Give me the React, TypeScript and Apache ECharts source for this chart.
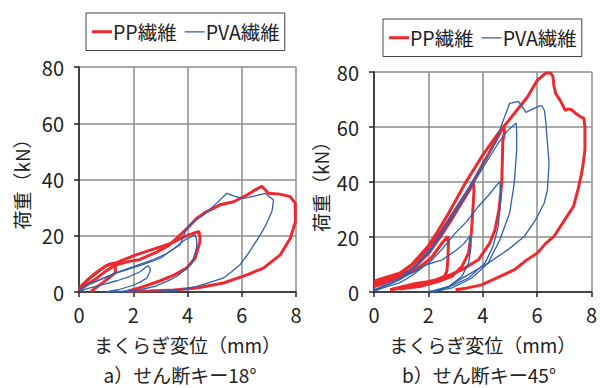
import React, { useEffect, useRef } from "react";
import * as echarts from "echarts";

// ---- axis ticks ----
const xTicks = [0, 2, 4, 6, 8];
const yTicks = [0, 20, 40, 60, 80];
const seriesNames = ["PP繊維", "PVA繊維"];
const xName = "まくらぎ変位（mm）";
const yName = "荷重（kN）";
const subTitles = ["a）せん断キー18°", "b）せん断キー45°"];

// ---- a) shear key 18°: PP fibre (red) loops ----
const pp18Cycle1 = [[0,0.3],[0.1,2.3],[0.4,5],[0.7,7.3],[1.0,9.3],[1.15,10],[1.33,10.2],[1.34,8.6],[1.34,6.8],[0.9,3.5],[0.44,0.2]];
const pp18Cycle2 = [[0,0.3],[0.1,2.3],[0.4,5],[0.7,7.3],[1.0,9.3],[1.34,10.3],[1.7,11.7],[2.1,13.2],[2.6,14.8],[3.0,16],[3.4,17.4],[3.73,19],[4.1,20.5],[4.42,21.5],[4.46,19.5],[4.46,17.9],[4.28,12],[3.97,8.5],[3.5,6],[3.0,4],[2.4,2],[1.8,0.3]];
const pp18Cycle3 = [[0,0.3],[0.2,2],[0.6,4.5],[1.0,7.5],[1.34,9.6],[1.8,10.8],[2.23,11.5],[2.87,14.2],[3.3,16.5],[3.65,19.5],[3.97,22.5],[4.34,26.2],[4.71,28.6],[5.2,31],[5.7,32.1],[6.19,34.5],[6.5,36.3],[6.74,37.6],[6.99,35.1],[7.4,34.8],[7.79,33.9],[7.97,31.6],[7.98,25],[7.79,19.1],[7.42,13.2],[6.8,8.5],[6.19,6.1],[5.33,3.2],[4.34,1.4],[3.5,0.7],[2.6,0.4],[1.8,0.3]];

// ---- a) shear key 18°: PVA fibre (blue) loops ----
const pva18Cycle1 = [[0,0.2],[0.3,1.2],[0.87,2.6],[1.4,4],[1.86,5.5],[2.25,7.2],[2.53,9.3],[2.62,8.5],[2.62,7.3],[2.5,5],[2.25,3.5],[2.0,2.4],[1.45,0.8],[1.08,0.2]];
const pva18Cycle2 = [[0,0.5],[0.2,2],[0.63,3.8],[1.37,6.7],[2.35,9.7],[3.0,12],[3.5,15.5],[3.9,18.5],[4.28,20.3],[4.34,18.5],[4.34,16.2],[4.28,13.9],[4.16,10.3],[3.9,7.9],[3.6,5.5],[3.24,3.8],[2.8,2],[2.25,0.8],[1.6,0.3],[1.0,0]];
const pva18Cycle3 = [[0,0.5],[0.3,2.5],[0.8,4.5],[1.4,7],[2.0,9],[2.74,11.5],[3.2,13.5],[3.73,16.8],[3.97,22.7],[4.3,25.5],[4.59,27.4],[5.08,31.6],[5.45,35.1],[5.75,34],[6.06,33.3],[6.5,34.2],[6.86,35.1],[7.17,32.7],[7.15,31],[7.11,28.6],[6.9,24],[6.68,20.3],[6.3,14.5],[5.94,9.7],[5.6,7],[5.33,5],[4.8,3.3],[4.34,2],[3.73,0.8],[3.0,0.3],[2.0,0.1],[1.0,0]];

// ---- b) shear key 45°: PP fibre (red) loops ----
const pp45Cycle1 = [[0,2],[0.3,3],[0.65,4.5],[1.0,5.8],[1.5,7.8],[2.1,12.3],[2.52,18],[2.72,20.2],[2.74,18],[2.72,12],[2.68,7.5],[2.59,5.7],[2.3,4.5],[1.9,3.6],[1.5,3],[1.0,1.8],[0.6,0.8]];
const pp45Cycle2 = [[0,2.5],[0.5,4],[1.0,6],[1.5,9],[2.0,14],[2.4,19.5],[2.8,25.5],[3.2,32],[3.45,36],[3.66,39.5],[3.68,37],[3.66,33.5],[3.62,27],[3.58,21.4],[3.48,14.2],[3.24,9.3],[2.87,5.7],[2.39,3.9],[1.67,2],[0.94,1.1]];
const pp45Cycle3 = [[0,3],[0.5,4.8],[1.0,7],[1.5,10.5],[2.0,16],[2.5,22.5],[3.0,30],[3.5,37.5],[4.0,46.5],[4.4,53.5],[4.78,60.5],[4.8,58],[4.74,55],[4.72,47],[4.7,39.6],[4.6,30],[4.45,22.5],[4.26,17.8],[3.84,11.7],[3.24,8.1],[2.39,4.5],[1.42,2],[0.6,0.8]];
const pp45Cycle4 = [[0,3.9],[0.4,5.2],[0.94,6.8],[1.38,9.9],[1.98,16.5],[2.34,22],[2.75,28.7],[3.36,39.6],[3.96,49.2],[4.57,57.7],[5.17,65],[5.65,71],[6.01,77],[6.32,79.6],[6.5,79.6],[6.58,78.5],[6.62,75],[6.68,72.3],[6.86,69.5],[7.04,66],[7.15,66.6],[7.28,66.2],[7.46,64.6],[7.62,63.6],[7.72,63.2],[7.76,60],[7.76,51.7],[7.7,47],[7.64,43.2],[7.5,37],[7.34,31.1],[7.1,27.5],[6.62,20.2],[6.3,17.5],[6.01,14.2],[5.6,11.5],[5.17,8.1],[4.6,5.5],[3.96,2.6],[3.4,1.4],[3.0,0.8]];

// ---- b) shear key 45°: PVA fibre (blue) loops ----
const pva45Cycle1 = [[0,0.3],[0.5,2],[0.94,3.3],[1.4,6],[1.67,8.1],[1.91,9.9],[2.51,11.7],[3.0,15],[3.3,17.5],[3.54,20.4],[3.57,16.6],[3.48,10.5],[3.24,5.7],[2.75,2],[2.14,0.2]];
const pva45Cycle2 = [[0,0.5],[0.5,2.5],[1.0,4.8],[1.5,7.5],[2.03,10.6],[2.5,15.5],[3.0,21.5],[3.4,25.5],[3.84,31.1],[4.2,35],[4.63,40.2],[4.66,36],[4.66,33.5],[4.57,23.8],[4.38,16.6],[4.08,10.5],[3.48,5.1],[2.75,1.8],[2.15,0.2]];
const pva45Cycle3 = [[0,0.5],[0.5,2.5],[0.94,4.5],[1.55,9.3],[2.15,16],[2.75,25],[3.36,34.5],[3.96,44.5],[4.57,54.1],[4.9,58.5],[5.23,61.5],[5.25,58],[5.25,51.7],[5.16,39.6],[4.99,28.7],[4.63,19],[4.2,10.5],[3.6,5.1],[2.87,1.5],[2.15,0]];
const pva45Cycle4 = [[0,0.8],[0.5,3],[0.94,5],[1.55,9.8],[2.15,16.6],[2.75,26.3],[3.36,36],[3.96,45.6],[4.44,54],[4.81,63.8],[4.99,68.6],[5.31,69.3],[5.45,67.5],[5.59,65.3],[5.77,66.2],[6.07,67.6],[6.17,67.8],[6.27,66],[6.32,62],[6.38,54.1],[6.44,46.8],[6.38,37.1],[6.26,32.3],[5.95,26.3],[5.53,20.2],[4.93,15.4],[4.2,10.5],[3.36,5.7],[2.75,2],[2.2,0.5],[1.91,0]];

const RED = "#ec2a2d";
const BLUE = "#2f5fae";
const FONT = "'Noto Sans CJK JP', 'Noto Sans', sans-serif";
// legend swatches: an invisible full-height sliver keeps the box size, the bar sets the thickness
const ICON_RED = "path://M0,0h0.01v14h-0.01z M0,5.5h20v3h-20z";
const ICON_BLUE = "path://M0,0h0.01v14h-0.01z M0,6.4h20v1.3h-20z";

export default function App() {
  const ref = useRef<HTMLDivElement>(null);
  useEffect(() => {
    document.body.style.margin = "0";
    if (!ref.current) return;
    const chart = echarts.init(ref.current, null, { renderer: "svg" });

    const axisText = { fontSize: 20, color: "#222", fontFamily: FONT };
    const mkX = (gi: number) => ({
      type: "value", gridIndex: gi, min: xTicks[0], max: xTicks[xTicks.length - 1], interval: 2,
      name: xName, nameLocation: "middle", nameGap: 43,
      nameTextStyle: { fontSize: 19, color: "#222", fontFamily: FONT },
      axisLine: { show: true, lineStyle: { color: "#222", width: 1.5 } },
      axisTick: { show: true, length: 5, lineStyle: { color: "#222", width: 1.5 } },
      axisLabel: { ...axisText, margin: 12 },
      splitLine: { show: true, lineStyle: { color: "#8c8c8c", width: 1.5 } },
    });
    const mkY = (gi: number, gap: number) => ({
      type: "value", gridIndex: gi, min: yTicks[0], max: yTicks[yTicks.length - 1], interval: 20,
      name: yName, nameLocation: "middle", nameGap: gap, nameRotate: 90,
      nameTextStyle: { fontSize: 19, color: "#222", fontFamily: FONT },
      axisLine: { show: true, lineStyle: { color: "#222", width: 1.5 } },
      axisTick: { show: true, length: 5, lineStyle: { color: "#222", width: 1.5 } },
      axisLabel: { ...axisText, margin: 15 },
      splitLine: { show: true, lineStyle: { color: "#8c8c8c", width: 1.5 } },
    });

    const line = (name: string, data: number[][], gi: number) => ({
      type: "line", name, data, xAxisIndex: gi, yAxisIndex: gi,
      symbol: "none", showSymbol: false, smooth: false, silent: true,
      lineStyle: name === seriesNames[0] ? { color: RED, width: 3 } : { color: BLUE, width: 1.3 },
      itemStyle: { color: name === seriesNames[0] ? RED : BLUE },
      z: name === seriesNames[0] ? 2 : 3,
    });

    const legendBase = {
      data: [
        { name: seriesNames[0], icon: ICON_RED },
        { name: seriesNames[1], icon: ICON_BLUE },
      ],
      orient: "horizontal", itemWidth: 20, itemHeight: 14, itemGap: 8,
      borderColor: "#444", borderWidth: 1, padding: [9, 5, 9, 6],
      textStyle: { fontSize: 19.5, color: "#222", fontFamily: FONT, padding: [0, 0, 0, -4] },
      selectedMode: false,
    };

    chart.setOption({
      animation: false,
      backgroundColor: "#fff",
      grid: [
        { left: 79, top: 67, width: 217, height: 225 },
        { left: 374, top: 72, width: 221, height: 220 },
      ],
      legend: [
        { ...legendBase, left: 86, top: 13 },
        { ...legendBase, left: 383, top: 19 },
      ],
      xAxis: [mkX(0), mkX(1)],
      yAxis: [mkY(0, 48), mkY(1, 44)],
      series: [
        line(seriesNames[0], pp18Cycle1, 0),
        line(seriesNames[0], pp18Cycle2, 0),
        line(seriesNames[0], pp18Cycle3, 0),
        line(seriesNames[1], pva18Cycle1, 0),
        line(seriesNames[1], pva18Cycle2, 0),
        line(seriesNames[1], pva18Cycle3, 0),
        line(seriesNames[0], pp45Cycle1, 1),
        line(seriesNames[0], pp45Cycle2, 1),
        line(seriesNames[0], pp45Cycle3, 1),
        line(seriesNames[0], pp45Cycle4, 1),
        line(seriesNames[1], pva45Cycle1, 1),
        line(seriesNames[1], pva45Cycle2, 1),
        line(seriesNames[1], pva45Cycle3, 1),
        line(seriesNames[1], pva45Cycle4, 1),
      ],
      graphic: [
        { type: "text", x: 180, y: 374, style: { text: subTitles[0], font: `19px ${FONT}`, lineHeight: 19, fill: "#222", textAlign: "center", textVerticalAlign: "middle" } },
        { type: "text", x: 479, y: 374, style: { text: subTitles[1], font: `19px ${FONT}`, lineHeight: 19, fill: "#222", textAlign: "center", textVerticalAlign: "middle" } },
      ],
    });
    return () => chart.dispose();
  }, []);
  return <div ref={ref} style={{ position: "fixed", left: 0, top: 0, width: 600, height: 388 }} />;
}
